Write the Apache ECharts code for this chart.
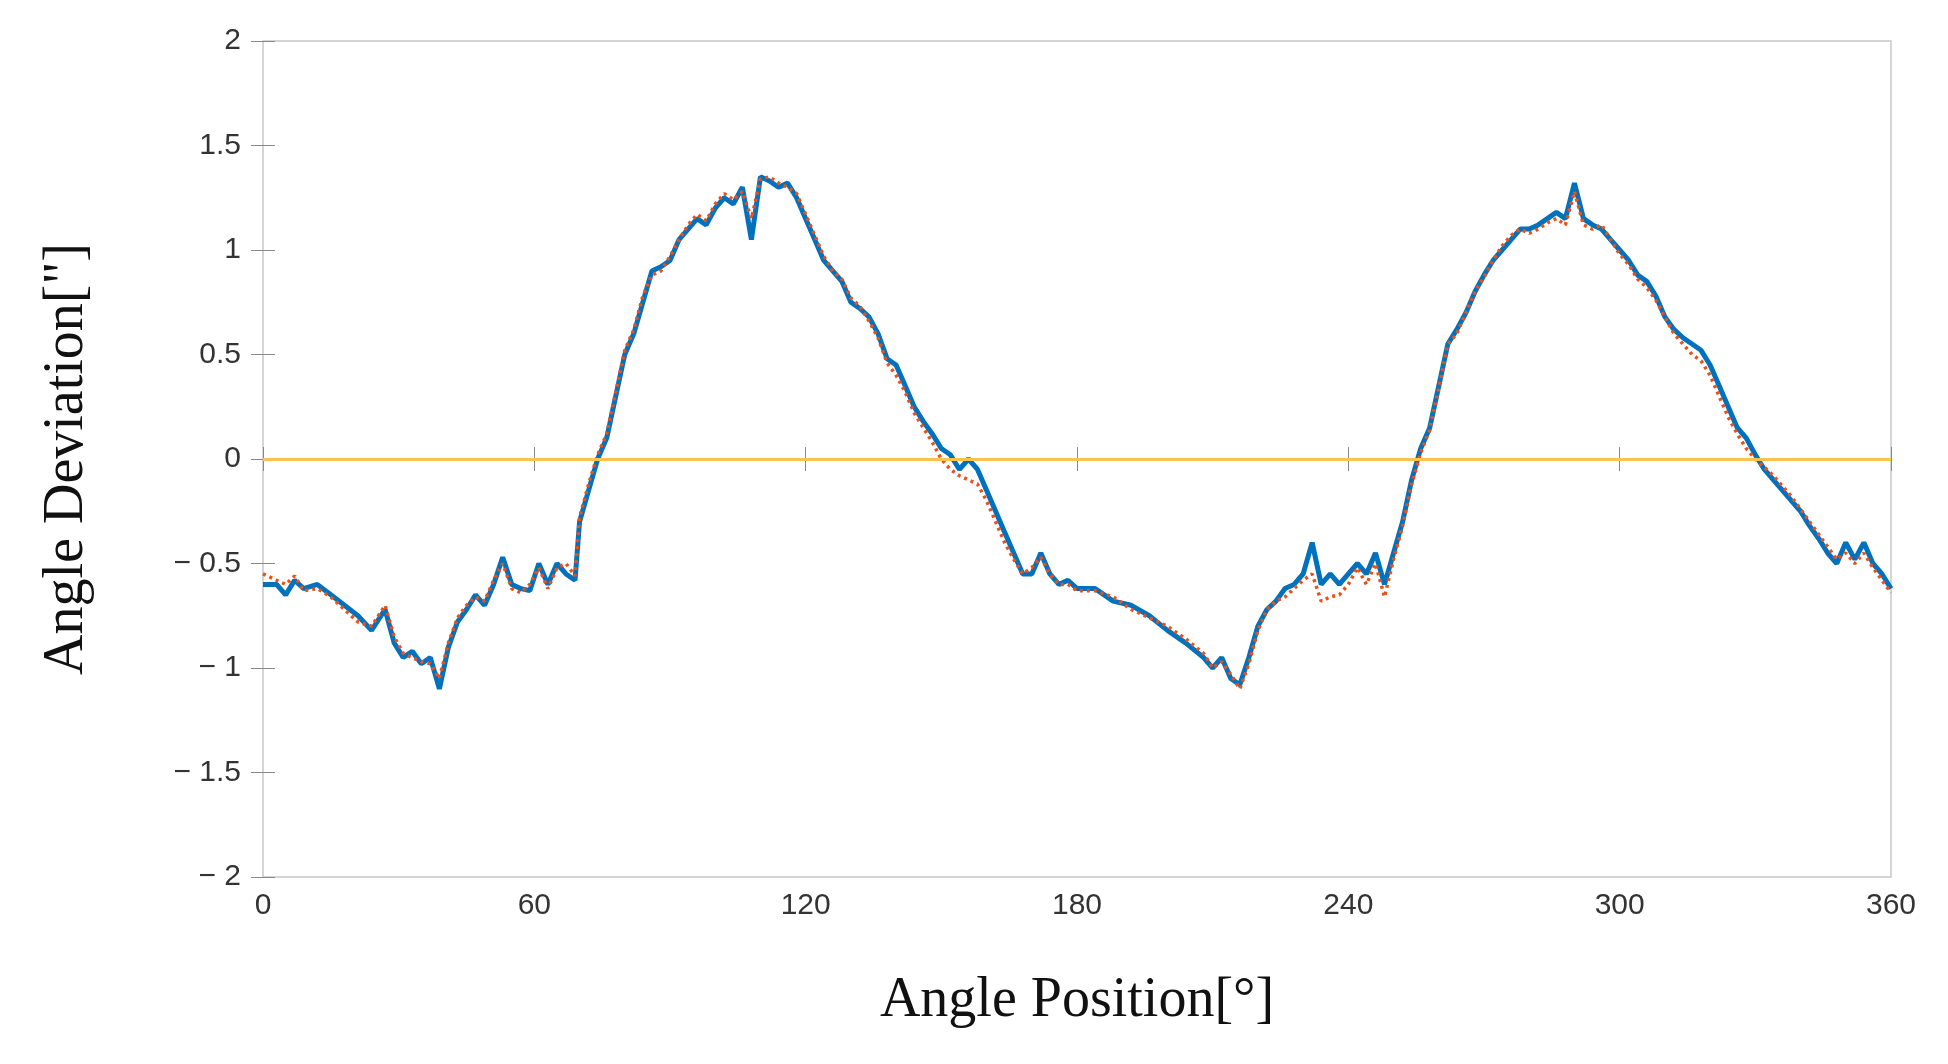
<!DOCTYPE html>
<html><head><meta charset="utf-8">
<script src="https://cdn.jsdelivr.net/npm/echarts@6/dist/echarts.min.js"></script>
<style>html,body{margin:0;padding:0;background:#fff}#c{width:1948px;height:1064px}</style>
</head><body><div id="c"></div>
<script>
const angles = [0,3,5,7,9,12,15,18,21,24,27,29,31,33,35,37,39,41,43,45,47,49,51,53,55,57,59,61,63,65,67,69,70,72,74,76,78,80,82,84,86,88,90,92,94,96,98,100,102,104,106,108,110,112,114,116,118,120,122,124,126,128,130,132,134,136,138,140,142,144,146,148,150,152,154,156,158,160,162,164,166,168,170,172,174,176,178,180,184,188,192,196,200,204,208,210,212,214,216,218,220,222,224,226,228,230,232,234,236,238,240,242,244,246,248,250,252,254,256,258,260,262,264,266,268,270,272,274,276,278,280,282,284,286,288,290,292,294,296,298,300,302,304,306,308,310,312,314,316,318,320,322,324,326,328,330,332,334,336,338,340,342,344,346,348,350,352,354,356,358,360];
const measured = [-0.6,-0.6,-0.65,-0.58,-0.62,-0.6,-0.65,-0.7,-0.75,-0.82,-0.72,-0.88,-0.95,-0.92,-0.98,-0.95,-1.1,-0.9,-0.78,-0.72,-0.65,-0.7,-0.6,-0.47,-0.6,-0.62,-0.63,-0.5,-0.6,-0.5,-0.55,-0.58,-0.3,-0.15,0,0.1,0.3,0.5,0.6,0.75,0.9,0.92,0.95,1.05,1.1,1.15,1.12,1.2,1.25,1.22,1.3,1.05,1.35,1.33,1.3,1.32,1.25,1.15,1.05,0.95,0.9,0.85,0.75,0.72,0.68,0.6,0.48,0.45,0.35,0.25,0.18,0.12,0.05,0.02,-0.05,0.0,-0.05,-0.15,-0.25,-0.35,-0.45,-0.55,-0.55,-0.45,-0.55,-0.6,-0.58,-0.62,-0.62,-0.68,-0.7,-0.75,-0.82,-0.88,-0.95,-1.0,-0.95,-1.05,-1.08,-0.95,-0.8,-0.72,-0.68,-0.62,-0.6,-0.55,-0.4,-0.6,-0.55,-0.6,-0.55,-0.5,-0.55,-0.45,-0.6,-0.45,-0.3,-0.1,0.05,0.15,0.35,0.55,0.62,0.7,0.8,0.88,0.95,1.0,1.05,1.1,1.1,1.12,1.15,1.18,1.15,1.32,1.15,1.12,1.1,1.05,1.0,0.95,0.88,0.85,0.78,0.68,0.62,0.58,0.55,0.52,0.45,0.35,0.25,0.15,0.1,0.02,-0.05,-0.1,-0.15,-0.2,-0.25,-0.32,-0.38,-0.45,-0.5,-0.4,-0.48,-0.4,-0.5,-0.55,-0.62];
const model = [-0.55,-0.58,-0.6,-0.56,-0.63,-0.62,-0.66,-0.72,-0.78,-0.8,-0.7,-0.85,-0.93,-0.95,-0.97,-0.98,-1.05,-0.88,-0.76,-0.7,-0.66,-0.68,-0.58,-0.5,-0.62,-0.64,-0.6,-0.52,-0.62,-0.52,-0.5,-0.56,-0.28,-0.12,0.02,0.12,0.32,0.52,0.62,0.78,0.88,0.9,0.97,1.05,1.12,1.17,1.14,1.22,1.27,1.24,1.28,1.15,1.34,1.35,1.32,1.3,1.27,1.17,1.07,0.97,0.9,0.86,0.77,0.73,0.66,0.58,0.46,0.4,0.32,0.22,0.15,0.08,0.0,-0.05,-0.08,-0.1,-0.12,-0.2,-0.3,-0.4,-0.48,-0.55,-0.52,-0.47,-0.55,-0.6,-0.6,-0.63,-0.63,-0.66,-0.72,-0.76,-0.8,-0.86,-0.93,-1.0,-0.97,-1.03,-1.1,-0.98,-0.82,-0.72,-0.68,-0.66,-0.62,-0.58,-0.55,-0.68,-0.66,-0.65,-0.6,-0.52,-0.6,-0.5,-0.66,-0.48,-0.32,-0.12,0.03,0.14,0.34,0.55,0.6,0.7,0.8,0.87,0.95,1.02,1.07,1.1,1.08,1.1,1.13,1.15,1.12,1.28,1.12,1.1,1.12,1.05,0.98,0.93,0.86,0.82,0.76,0.68,0.6,0.55,0.5,0.47,0.4,0.3,0.2,0.12,0.05,0.0,-0.04,-0.08,-0.13,-0.18,-0.24,-0.3,-0.36,-0.42,-0.48,-0.45,-0.5,-0.45,-0.52,-0.58,-0.64];
const yTicks = {'2':'2','1.5':'1.5','1':'1','0.5':'0.5','0':'0','-0.5':'\u2212 0.5','-1':'\u2212 1','-1.5':'\u2212 1.5','-2':'\u2212 2'};
const toPairs = ys => angles.map((a,i)=>[a,ys[i]]);
const chart = echarts.init(document.getElementById('c'));
const tickStyle = {inside:true,length:12,lineStyle:{color:'#888'}};
chart.setOption({
  animation:false,
  grid:{left:263,right:57,top:41,bottom:187,show:true,borderColor:'#c8c8c8',borderWidth:1.5},
  xAxis:[{type:'value',min:0,max:360,interval:60,
    name:'Angle Position[°]',nameLocation:'middle',nameGap:96,
    nameTextStyle:{fontFamily:'Liberation Serif',fontSize:56,color:'#111'},
    axisLine:{show:false},axisTick:tickStyle,
    axisLabel:{fontFamily:'Liberation Sans',fontSize:30,color:'#333',margin:14},splitLine:{show:false}},
    {type:'value',position:'top',min:0,max:360,interval:60,axisLine:{show:false},axisTick:tickStyle,axisLabel:{show:false},splitLine:{show:false}}],
  yAxis:[{type:'value',min:-2,max:2,interval:0.5,
    name:'Angle Deviation["]',nameLocation:'middle',nameGap:168,
    nameTextStyle:{fontFamily:'Liberation Serif',fontSize:56,color:'#111'},
    axisLine:{show:false},axisTick:tickStyle,
    axisLabel:{fontFamily:'Liberation Sans',fontSize:30,color:'#333',margin:22,formatter:v=>yTicks[String(v)]??v},
    splitLine:{show:false}},
    {type:'value',position:'right',min:-2,max:2,interval:0.5,axisLine:{show:false},axisTick:tickStyle,axisLabel:{show:false},splitLine:{show:false}}],
  series:[
    {type:'line',data:toPairs(measured),showSymbol:false,lineStyle:{color:'#0072bd',width:5},
     markLine:{silent:true,symbol:'none',label:{show:false},lineStyle:{color:'#ffc34d',width:3,type:'solid'},data:[{yAxis:0}]}},
    {type:'line',data:toPairs(model),showSymbol:false,lineStyle:{color:'#e8501c',width:3.5,type:[3,4]}}
  ]
});
</script></body></html>
